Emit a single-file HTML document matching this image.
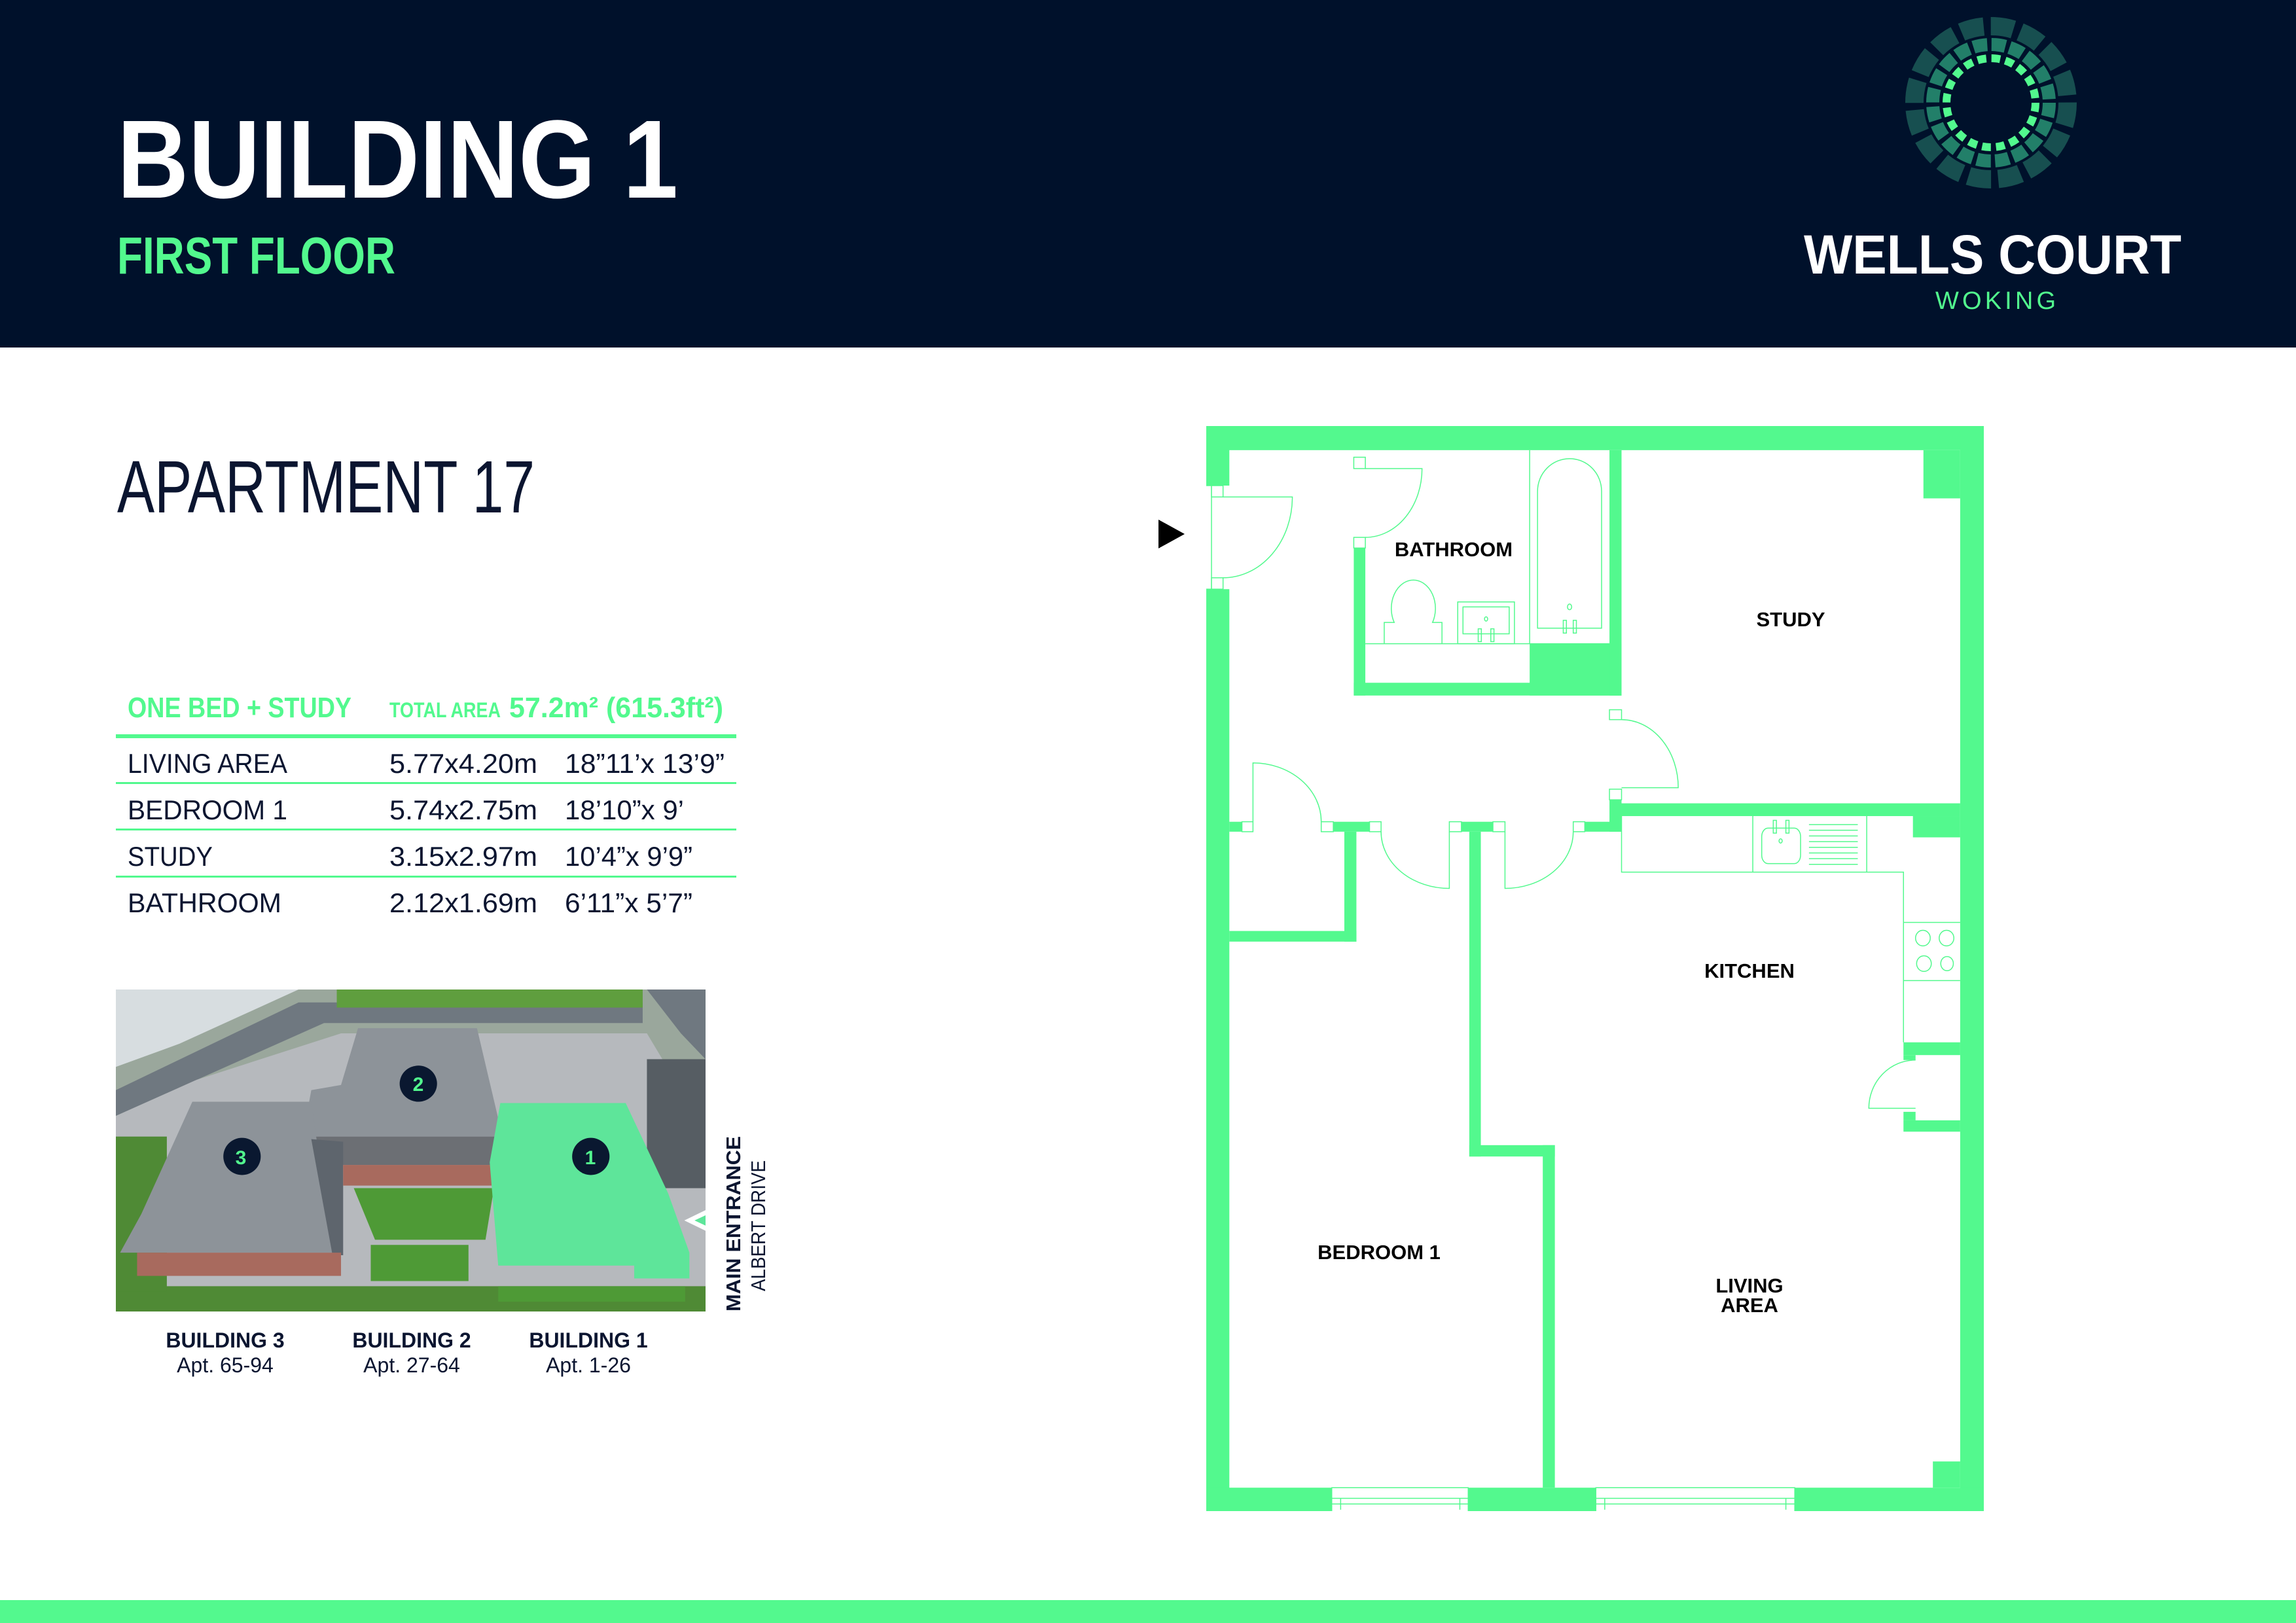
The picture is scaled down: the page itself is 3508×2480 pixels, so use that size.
<!DOCTYPE html>
<html><head><meta charset="utf-8"><style>
html,body{margin:0;padding:0;background:#fff;}
svg{display:block;}
</style></head><body>
<svg width="3508" height="2480" viewBox="0 0 3508 2480" xmlns="http://www.w3.org/2000/svg" font-family="'Liberation Sans Narrow','Liberation Sans',sans-serif">
<rect x="0" y="0" width="3508" height="2480" fill="#fff"/>
<rect x="0" y="0" width="3508" height="531" fill="#00112B"/>
<text x="179" y="302" font-size="170" font-weight="bold" fill="#fff" textLength="857" lengthAdjust="spacingAndGlyphs">BUILDING 1</text>
<text x="179" y="418" font-size="80" font-weight="bold" fill="#52F98E" textLength="425" lengthAdjust="spacingAndGlyphs">FIRST FLOOR</text>
<g fill="none">
<circle cx="3042" cy="157" r="117" stroke="#174F50" stroke-width="28" stroke-dasharray="35 10.9"/>
<circle cx="3042" cy="157" r="89" stroke="#227F69" stroke-width="20" stroke-dasharray="21.5 6.5"/>
<circle cx="3042" cy="157" r="68" stroke="#52F98E" stroke-width="12" stroke-dasharray="13.5 7.9"/>
</g>
<text x="2756" y="418" font-size="84" font-weight="bold" fill="#fff" textLength="577" lengthAdjust="spacingAndGlyphs">WELLS COURT</text>
<text x="2957" y="472" font-size="38" fill="#52F98E" textLength="184" lengthAdjust="spacing">WOKING</text>

<text x="179" y="783" font-size="113" fill="#0B1530" textLength="638" lengthAdjust="spacingAndGlyphs">APARTMENT 17</text>

<g font-weight="bold" fill="#52F98E">
<text x="195" y="1096" font-size="44" textLength="342" lengthAdjust="spacingAndGlyphs">ONE BED + STUDY</text>
<text x="595" y="1096" font-size="32" textLength="170" lengthAdjust="spacingAndGlyphs">TOTAL AREA</text>
<text x="778" y="1096" font-size="44" textLength="327" lengthAdjust="spacingAndGlyphs">57.2m²  (615.3ft²)</text>
</g>
<rect x="177" y="1122" width="948" height="6" fill="#52F98E"/>
<rect x="177" y="1195" width="948" height="3" fill="#52F98E"/>
<rect x="177" y="1266" width="948" height="3" fill="#52F98E"/>
<rect x="177" y="1338" width="948" height="3" fill="#52F98E"/>
<g font-size="42" fill="#0B1530">
<text x="195" y="1181" textLength="244" lengthAdjust="spacingAndGlyphs">LIVING AREA</text>
<text x="595" y="1181" textLength="226" lengthAdjust="spacingAndGlyphs">5.77x4.20m</text>
<text x="863" y="1181" textLength="244" lengthAdjust="spacingAndGlyphs">18”11’x 13’9”</text>
<text x="195" y="1252" textLength="244" lengthAdjust="spacingAndGlyphs">BEDROOM 1</text>
<text x="595" y="1252" textLength="226" lengthAdjust="spacingAndGlyphs">5.74x2.75m</text>
<text x="863" y="1252" textLength="182" lengthAdjust="spacingAndGlyphs">18’10”x 9’</text>
<text x="195" y="1323" textLength="130" lengthAdjust="spacingAndGlyphs">STUDY</text>
<text x="595" y="1323" textLength="226" lengthAdjust="spacingAndGlyphs">3.15x2.97m</text>
<text x="863" y="1323" textLength="195" lengthAdjust="spacingAndGlyphs">10’4”x 9’9”</text>
<text x="195" y="1394" textLength="235" lengthAdjust="spacingAndGlyphs">BATHROOM</text>
<text x="595" y="1394" textLength="226" lengthAdjust="spacingAndGlyphs">2.12x1.69m</text>
<text x="863" y="1394" textLength="195" lengthAdjust="spacingAndGlyphs">6’11”x 5’7”</text>
</g>

<svg x="177" y="1512" width="901" height="492" viewBox="10 30 1388 1248" preserveAspectRatio="none">
<rect x="10" y="30" width="1388" height="1248" fill="#9aa79c"/>
<path d="M10,30 L440,30 L160,240 L10,330 Z" fill="#d7dde0"/>
<path d="M10,420 L440,80 L1250,80 L1250,160 L500,160 L10,520 Z" fill="#6f7880"/>
<path d="M1260,30 L1398,30 L1398,300 L1340,200 Z" fill="#6f7880"/>
<rect x="530" y="30" width="720" height="70" fill="#5f9e3e"/>
<path d="M10,520 L200,380 L540,200 L1260,200 L1340,420 L1398,520 L1398,1278 L10,1278 Z" fill="#b6b9bd"/>
<path d="M570,800 L900,800 L880,1000 L620,1000 Z" fill="#4e9a36"/>
<path d="M610,1020 L840,1020 L840,1160 L610,1160 Z" fill="#4e9a36"/>
<rect x="10" y="1180" width="1388" height="98" fill="#4f8a35"/>
<rect x="910" y="1180" width="440" height="60" fill="#4e9a36"/>
<rect x="1260" y="300" width="138" height="500" fill="#565d63"/>
<rect x="10" y="600" width="120" height="600" fill="#4f8a35"/>
<path d="M580,180 L860,180 L920,600 L450,600 L470,420 L540,400 Z" fill="#8d9399"/>
<rect x="450" y="600" width="470" height="110" fill="#6c6f74"/>
<path d="M190,465 L470,465 L520,1050 L20,1050 L70,900 Z" fill="#8d9399"/>
<path d="M470,610 L545,620 L545,1060 L520,1060 Z" fill="#5e656d"/>
<rect x="60" y="1050" width="480" height="90" fill="#a86a5e"/>
<rect x="545" y="710" width="350" height="80" fill="#a86a5e"/>
<path d="M915,470 L1210,470 L1310,820 L1360,1050 L1360,1150 L1230,1150 L1230,1100 L910,1100 L890,700 Z" fill="#5ee59a"/>
<ellipse cx="722" cy="395" rx="44" ry="70" fill="#0a1830"/>
<ellipse cx="307" cy="677" rx="44" ry="72" fill="#0a1830"/>
<ellipse cx="1128" cy="677" rx="44" ry="72" fill="#0a1830"/>
<path d="M1348,925 L1398,885 L1398,965 Z" fill="#fff"/>
<path d="M1372,925 L1398,905 L1398,945 Z" fill="#5ee59a"/>
</svg>
<g font-family="'Liberation Sans','Liberation Sans Narrow',sans-serif" font-size="30" font-weight="bold" fill="#52F98E" text-anchor="middle">
<text x="639" y="1667">2</text>
<text x="368" y="1779">3</text>
<text x="902" y="1779">1</text>
</g>
<text transform="translate(1131,2004) rotate(-90)" font-size="31" font-weight="bold" fill="#0B1530" textLength="268" lengthAdjust="spacingAndGlyphs">MAIN ENTRANCE</text>
<text transform="translate(1169,1973) rotate(-90)" font-size="31" fill="#0B1530" textLength="200" lengthAdjust="spacingAndGlyphs">ALBERT DRIVE</text>
<g text-anchor="middle" fill="#0B1530">
<text x="344" y="2059" font-size="32" font-weight="bold">BUILDING 3</text>
<text x="344" y="2097" font-size="32">Apt. 65-94</text>
<text x="629" y="2059" font-size="32" font-weight="bold">BUILDING 2</text>
<text x="629" y="2097" font-size="32">Apt. 27-64</text>
<text x="899" y="2059" font-size="32" font-weight="bold">BUILDING 1</text>
<text x="899" y="2097" font-size="32">Apt. 1-26</text>
</g>

<path d="M1770,794 L1810,816 L1770,838 Z" fill="#000"/>

<svg x="1843" y="651" width="1188" height="1658" viewBox="54 18 1481 1530" preserveAspectRatio="none">
<g fill="#53F98E">
<rect x="54" y="18" width="1481" height="34"/>
<rect x="54" y="18" width="44" height="84"/>
<rect x="54" y="248" width="44" height="1300"/>
<rect x="1490" y="18" width="45" height="1530"/>
<rect x="54" y="1515" width="1481" height="33"/>
<rect x="1420" y="52" width="70" height="68"/>
<rect x="1438" y="1478" width="52" height="37"/>
<rect x="335" y="190" width="22" height="208"/>
<rect x="335" y="380" width="510" height="18"/>
<rect x="670" y="325" width="175" height="73"/>
<rect x="822" y="52" width="23" height="346"/>
<rect x="822" y="545" width="23" height="45"/>
<rect x="845" y="550" width="645" height="18"/>
<rect x="98" y="576" width="24" height="14"/>
<rect x="296" y="576" width="69" height="14"/>
<rect x="540" y="576" width="60" height="14"/>
<rect x="775" y="576" width="70" height="14"/>
<rect x="317" y="590" width="23" height="155"/>
<rect x="98" y="730" width="242" height="15"/>
<rect x="555" y="590" width="22" height="458"/>
<rect x="555" y="1032" width="163" height="16"/>
<rect x="695" y="1032" width="23" height="483"/>
<rect x="1400" y="568" width="90" height="30"/>
<rect x="1382" y="887" width="108" height="18"/>
<rect x="1382" y="905" width="23" height="7"/>
<rect x="1382" y="997" width="108" height="16"/>
<rect x="1382" y="985" width="23" height="12"/>
</g>
<g fill="#fff" stroke="#53F98E" stroke-width="1.5">
<rect x="293" y="1515" width="260" height="38" vector-effect="non-scaling-stroke"/>
<rect x="796" y="1515" width="379" height="38" vector-effect="non-scaling-stroke"/>
<rect x="36" y="102" width="28" height="146" vector-effect="non-scaling-stroke"/>
<rect x="64" y="102" width="22" height="16" vector-effect="non-scaling-stroke"/>
<rect x="64" y="232" width="22" height="16" vector-effect="non-scaling-stroke"/>
<rect x="335" y="62" width="22" height="16" vector-effect="non-scaling-stroke"/>
<rect x="335" y="175" width="22" height="15" vector-effect="non-scaling-stroke"/>
<rect x="822" y="418" width="23" height="14" vector-effect="non-scaling-stroke"/>
<rect x="822" y="530" width="23" height="15" vector-effect="non-scaling-stroke"/>
<rect x="122" y="576" width="21" height="14" vector-effect="non-scaling-stroke"/>
<rect x="273" y="576" width="23" height="14" vector-effect="non-scaling-stroke"/>
<rect x="365" y="576" width="22" height="14" vector-effect="non-scaling-stroke"/>
<rect x="517" y="576" width="23" height="14" vector-effect="non-scaling-stroke"/>
<rect x="600" y="576" width="23" height="14" vector-effect="non-scaling-stroke"/>
<rect x="753" y="576" width="22" height="14" vector-effect="non-scaling-stroke"/>
</g>
<g fill="none" stroke="#53F98E" stroke-width="1.5">
<path vector-effect="non-scaling-stroke" d="M293,1530 H553 M293,1538 H553 M796,1530 H1175 M796,1538 H1175 M310,1530 V1546 M537,1530 V1546 M813,1530 V1546 M1158,1530 V1546"/>
<path vector-effect="non-scaling-stroke" d="M86,118 L218,118 A132,114 0 0 1 86,232"/>
<path vector-effect="non-scaling-stroke" d="M357,78 L465,78 A108,97 0 0 1 357,175"/>
<path vector-effect="non-scaling-stroke" d="M845,528 L953,528 A108,96 0 0 0 845,432"/>
<path vector-effect="non-scaling-stroke" d="M143,576 L143,493 A130,83 0 0 1 273,576"/>
<path vector-effect="non-scaling-stroke" d="M517,590 L517,670 A130,80 0 0 1 387,590"/>
<path vector-effect="non-scaling-stroke" d="M623,590 L623,670 A130,80 0 0 0 753,590"/>
<path vector-effect="non-scaling-stroke" d="M1405,980 L1316,980 A89,68 0 0 1 1405,912"/>
<path vector-effect="non-scaling-stroke" d="M670,52 V325 H822 M357,325 H670"/>
<path vector-effect="non-scaling-stroke" d="M685,303 V110 A61,46 0 0 1 807,110 V303 Z"/>
<circle vector-effect="non-scaling-stroke" cx="746" cy="273" r="4"/>
<path vector-effect="non-scaling-stroke" d="M734,292 h6 v18 h-6 Z M753,292 h6 v18 h-6 Z"/>
<path vector-effect="non-scaling-stroke" d="M393,325 V295 H412 A42,40 0 1 1 485,295 H503 V325"/>
<rect vector-effect="non-scaling-stroke" x="533" y="266" width="108" height="59"/>
<rect vector-effect="non-scaling-stroke" x="543" y="273" width="88" height="38"/>
<circle vector-effect="non-scaling-stroke" cx="587" cy="290" r="3"/>
<path vector-effect="non-scaling-stroke" d="M572,304 h6 v18 h-6 Z M596,304 h6 v18 h-6 Z"/>
<path vector-effect="non-scaling-stroke" d="M845,568 V647 H1382 V887 M1095,568 V647 M1312,568 V647 M1382,718 H1490 M1382,800 H1490"/>
<rect vector-effect="non-scaling-stroke" x="1112" y="585" width="74" height="50" rx="12"/>
<path vector-effect="non-scaling-stroke" d="M1134,574 h6 v18 h-6 Z M1158,574 h6 v18 h-6 Z"/>
<circle vector-effect="non-scaling-stroke" cx="1148" cy="603" r="3"/>
<path vector-effect="non-scaling-stroke" d="M1202,580 H1295 M1202,588 H1295 M1202,596 H1295 M1202,604 H1295 M1202,612 H1295 M1202,620 H1295 M1202,628 H1295 M1202,636 H1295"/>
<ellipse vector-effect="non-scaling-stroke" cx="1419" cy="740" rx="14" ry="11"/>
<ellipse vector-effect="non-scaling-stroke" cx="1464" cy="740" rx="14" ry="11"/>
<ellipse vector-effect="non-scaling-stroke" cx="1421" cy="776" rx="14" ry="11"/>
<ellipse vector-effect="non-scaling-stroke" cx="1465" cy="776" rx="12" ry="10"/>
</g>
</svg>
<g font-family="'Liberation Sans',sans-serif" font-size="31" font-weight="bold" fill="#000" text-anchor="middle">
<text x="2221" y="850">BATHROOM</text>
<text x="2736" y="957">STUDY</text>
<text x="2673" y="1494">KITCHEN</text>
<text x="2107" y="1924">BEDROOM 1</text>
<text x="2673" y="1975">LIVING</text>
<text x="2673" y="2005">AREA</text>
</g>

<rect x="0" y="2445" width="3508" height="35" fill="#53F98E"/>
</svg>
</body></html>
